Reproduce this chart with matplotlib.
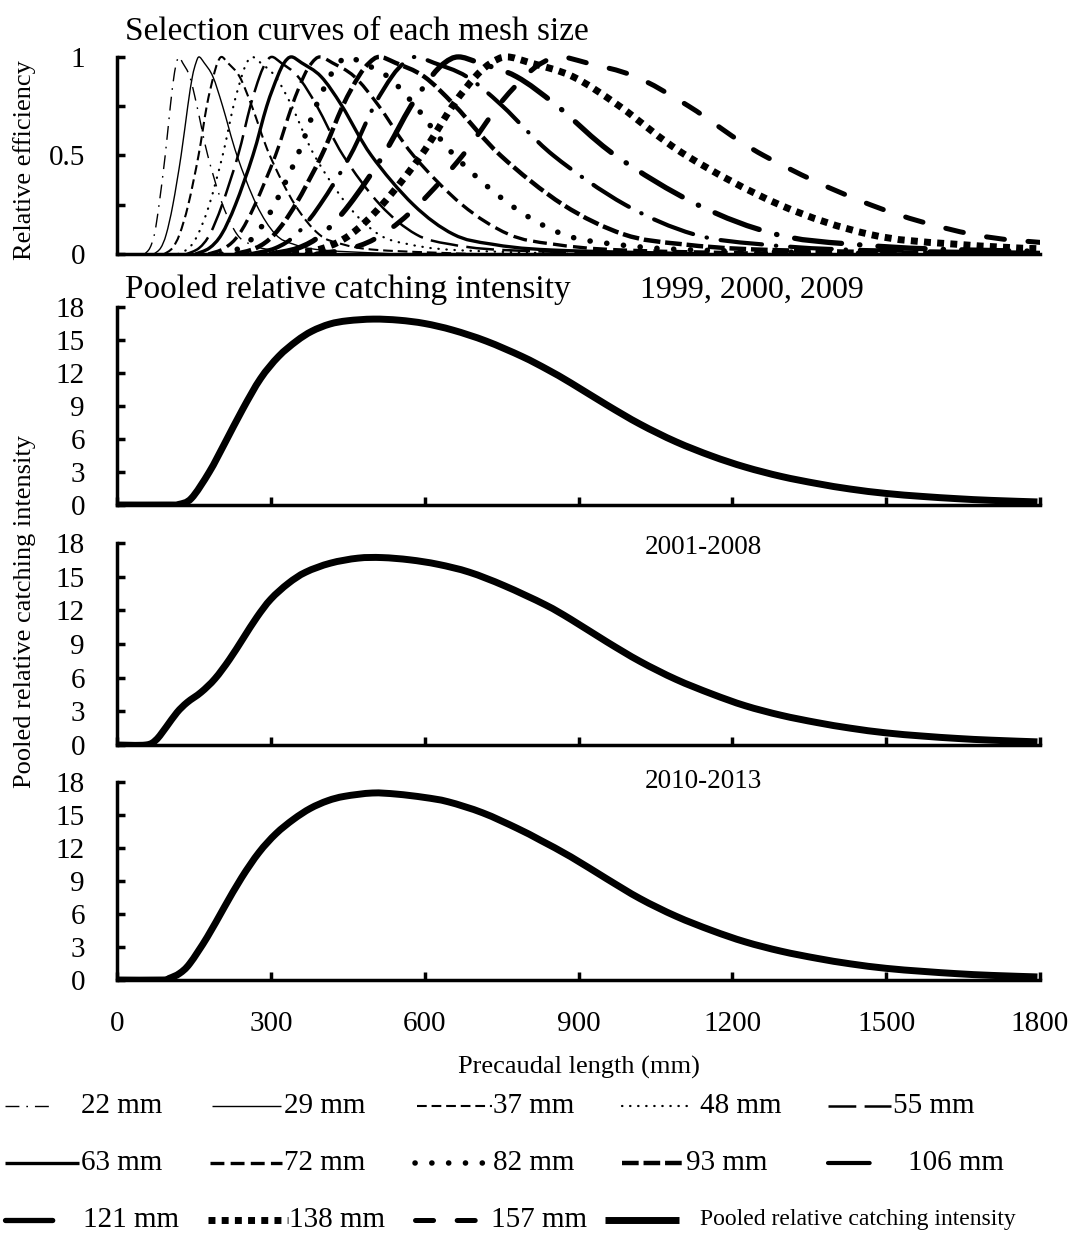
import matplotlib
matplotlib.use('Agg')
import matplotlib.pyplot as plt
from matplotlib.path import Path
from matplotlib.patches import PathPatch

plt.rcParams['font.family'] = ['Liberation Serif', 'DejaVu Serif']
plt.rcParams['lines.scale_dashes'] = False

# --------------------------------------------------------
# Data
# --------------------------------------------------------
mesh_sizes = [22, 29, 37, 48, 55, 63, 72, 82, 93, 106, 121, 138, 157]

# relative efficiency levels at which each selection curve was digitized
sel_levels = [0, 0.03, 0.1, 0.25, 0.5, 0.75, 0.9, 0.97, 1.0,
              0.97, 0.9, 0.75, 0.5, 0.25, 0.1, 0.05, 0.02, 0]

# precaudal length (mm) where each selection curve passes those levels
sel_22 = [54, 64, 73, 82, 94, 104, 111, 116, 121, 128, 142, 156, 177, 206, 234, 260, 303, 411]
sel_29 = [72, 85, 96, 109, 125, 138, 147, 154, 160, 170, 187, 206, 234, 272, 309, 344, 400, 544]
sel_37 = [92, 108, 122, 139, 159, 175, 188, 196, 204, 216, 239, 263, 298, 347, 394, 439, 510, 694]
sel_48 = [119, 140, 158, 180, 206, 227, 243, 253, 264, 280, 309, 341, 385, 449, 510, 568, 660, 898]
sel_55 = [136, 160, 181, 205, 236, 260, 278, 290, 302, 320, 353, 390, 441, 513, 583, 649, 755, 1027]
sel_63 = [153, 180, 204, 231, 265, 292, 313, 326, 340, 360, 398, 439, 496, 578, 656, 731, 850, 1156]
sel_72 = [178, 210, 238, 269, 309, 341, 364, 380, 396, 420, 463, 511, 578, 673, 764, 851, 990, 1346]
sel_82 = [203, 239, 271, 307, 352, 388, 415, 433, 451, 478, 528, 582, 658, 767, 870, 970, 1128, 1533]
sel_93 = [230, 271, 307, 348, 399, 440, 471, 492, 512, 543, 599, 660, 748, 870, 988, 1101, 1280, 1741]
sel_106 = [262, 309, 350, 396, 455, 501, 536, 560, 583, 618, 682, 752, 851, 991, 1125, 1253, 1458, 1982]
sel_121 = [300, 353, 400, 453, 519, 573, 613, 639, 666, 706, 779, 859, 972, 1132, 1285, 1432, 1665, 2264]
sel_138 = [342, 403, 456, 517, 593, 654, 699, 730, 760, 806, 889, 980, 1110, 1292, 1467, 1634, 1900, 2584]
sel_157 = [389, 458, 518, 588, 674, 743, 795, 829, 864, 916, 1011, 1115, 1261, 1469, 1668, 1858, 2160, 2938]

sel_lengths = [sel_22, sel_29, sel_37, sel_48, sel_55, sel_63, sel_72,
               sel_82, sel_93, sel_106, sel_121, sel_138, sel_157]

# pooled relative catching intensity, one curve per period
period_labels = ['1999, 2000, 2009', '2001-2008', '2010-2013']

pooled_x_9909 = [0, 100, 120, 145, 180, 210, 245, 280, 315, 350, 380, 415, 450, 500, 550, 600, 655,
                 720, 790, 840, 885, 955, 1020, 1090, 1160, 1225, 1295, 1365, 1430, 1500, 1570,
                 1640, 1705, 1795]
pooled_y_9909 = [0, 0, 0.05, 0.6, 3.0, 5.6, 8.7, 11.5, 13.5, 14.9, 15.8, 16.45, 16.75, 16.9, 16.8,
                 16.5, 15.9, 14.9, 13.5, 12.3, 11.1, 9.1, 7.35, 5.75, 4.45, 3.45, 2.6, 1.95, 1.45,
                 1.05, 0.78, 0.57, 0.42, 0.28]

pooled_x_0108 = [0, 56, 76, 96, 117, 137, 164, 191, 219, 246, 273, 300, 334, 368, 416, 470, 517,
                 571, 626, 687, 755, 835, 885, 955, 1020, 1090, 1160, 1225, 1295, 1365, 1430,
                 1500, 1570, 1640, 1705, 1795]
pooled_y_0108 = [0, 0, 0.45, 1.6, 2.9, 3.8, 4.7, 5.9, 7.6, 9.5, 11.4, 13.0, 14.4, 15.4, 16.2,
                 16.65, 16.7, 16.5, 16.1, 15.4, 14.2, 12.5, 11.2, 9.2, 7.45, 5.85, 4.55, 3.5, 2.65,
                 2.0, 1.5, 1.08, 0.8, 0.58, 0.43, 0.28]

pooled_x_1013 = [0, 90, 102, 122, 142, 176, 209, 243, 277, 310, 344, 377, 411, 444, 498, 545, 599,
                 646, 713, 780, 826, 885, 955, 1020, 1090, 1160, 1225, 1295, 1365, 1430, 1500,
                 1570, 1640, 1705, 1795]
pooled_y_1013 = [0, 0, 0.15, 0.6, 1.5, 3.9, 6.6, 9.3, 11.6, 13.3, 14.6, 15.6, 16.3, 16.7, 17.0,
                 16.9, 16.6, 16.2, 15.2, 13.8, 12.7, 11.2, 9.2, 7.4, 5.8, 4.5, 3.47, 2.62, 1.97,
                 1.47, 1.06, 0.79, 0.57, 0.42, 0.28]

pooled_x = [pooled_x_9909, pooled_x_0108, pooled_x_1013]
pooled_y = [pooled_y_9909, pooled_y_0108, pooled_y_1013]

# --------------------------------------------------------
# Line styles (one per mesh size), dashes in points
# --------------------------------------------------------
styles = {
    22: dict(lw=1.0, dashes=(10, 5, 1.2, 5), cap='butt'),
    29: dict(lw=1.0, dashes=None, cap='butt'),
    37: dict(lw=1.5, dashes=(7, 3.5), cap='butt'),
    48: dict(lw=1.6, dashes=(0.3, 5.5), cap='round'),
    55: dict(lw=1.8, dashes=(20, 6), cap='butt'),
    63: dict(lw=2.4, dashes=None, cap='butt'),
    72: dict(lw=2.4, dashes=(10, 4.5), cap='butt'),
    82: dict(lw=4.0, dashes=(0.1, 12), cap='round'),
    93: dict(lw=3.2, dashes=(12, 3.5), cap='butt'),
    106: dict(lw=3.0, dashes=(30, 10, 0.3, 10), cap='round'),
    121: dict(lw=3.8, dashes=(34, 13, 0.3, 13), cap='round'),
    138: dict(lw=5.0, dashes=(5, 4.5), cap='butt'),
    157: dict(lw=3.6, dashes=(13, 17), cap='round'),
}
pooled_style = dict(lw=5.0, dashes=None, cap='butt')


def smooth_path(xs, ys):
    pts = list(zip(xs, ys))
    n = len(pts)
    verts = [pts[0]]
    codes = [Path.MOVETO]
    for i in range(n - 1):
        p0 = pts[i - 1] if i > 0 else pts[i]
        p1, p2 = pts[i], pts[i + 1]
        p3 = pts[i + 2] if i + 2 < n else pts[i + 1]
        c1 = (p1[0] + (p2[0] - p0[0]) / 6, p1[1] + (p2[1] - p0[1]) / 6)
        c2 = (p2[0] - (p3[0] - p1[0]) / 6, p2[1] - (p3[1] - p1[1]) / 6)
        verts += [c1, c2, p2]
        codes += [Path.CURVE4] * 3
    return Path(verts, codes)


def draw_curve(ax, xs, ys, st):
    ls = '-' if st['dashes'] is None else (0, st['dashes'])
    ax.add_patch(PathPatch(smooth_path(xs, ys), fill=False, edgecolor='k', lw=st['lw'],
                           linestyle=ls, capstyle=st['cap'], joinstyle='round'))


def draw_sample(ax, x0, x1, y, st):
    ls = '-' if st['dashes'] is None else (0, st['dashes'])
    ax.plot([x0, x1], [y, y], color='k', lw=st['lw'], ls=ls,
            dash_capstyle=st['cap'], solid_capstyle=st['cap'])


W, H = 1074, 1238
fig = plt.figure(figsize=(W / 100, H / 100), dpi=100)

left = 117 / W
width = 923 / W


def frac(y_px):
    return 1 - y_px / H


def style_axes(ax):
    for s in ['top', 'right']:
        ax.spines[s].set_visible(False)
    for s in ['left', 'bottom']:
        ax.spines[s].set_linewidth(2.5)
    ax.tick_params(direction='in', length=6, width=2.5, labelsize=21, pad=23)


# --------------------------------------------------------
# Top panel: selection curves
# --------------------------------------------------------
ax0 = fig.add_axes([left, frac(254), width, 203 / H])
for m, xs in zip(mesh_sizes, sel_lengths):
    draw_curve(ax0, xs, sel_levels, styles[m])
ax0.set_xlim(0, 1800)
ax0.set_ylim(0, 1.03)
style_axes(ax0)
ax0.spines['left'].set_bounds(0, 1)
ax0.set_xticks([])
ax0.set_yticks([0, 0.25, 0.5, 0.75, 1])
ax0.set_yticklabels(['0', '', '0.5', '', '1'])

# --------------------------------------------------------
# Pooled panels
# --------------------------------------------------------
panel_px = [(505, 307), (745, 543), (980, 782)]
axes = []
for i, (b, t) in enumerate(panel_px):
    ax = fig.add_axes([left, frac(b), width, (b - t) / H])
    draw_curve(ax, pooled_x[i], pooled_y[i], pooled_style)
    ax.set_xlim(0, 1800)
    ax.set_ylim(0, 18)
    style_axes(ax)
    ax.set_yticks(range(0, 19, 3))
    ax.set_xticks(range(0, 1801, 300))
    if i < 2:
        ax.set_xticklabels([])
    axes.append(ax)

axes[-1].tick_params(axis='x', pad=22)
axes[-1].set_xlabel('Precaudal length (mm)', fontsize=19, labelpad=14)

# --------------------------------------------------------
# Texts
# --------------------------------------------------------
fig.text(125 / W, frac(32), 'Selection curves of each mesh size', fontsize=24, va='center')
fig.text(125 / W, frac(290), 'Pooled relative catching intensity', fontsize=24, va='center')
fig.text(640 / W, frac(290), period_labels[0], fontsize=23, va='center')
fig.text(645 / W, frac(548), period_labels[1], fontsize=19.5, va='center')
fig.text(645 / W, frac(782), period_labels[2], fontsize=19.5, va='center')
fig.text(25 / W, frac(160), 'Relative efficiency', fontsize=19, rotation=90,
         ha='center', va='center')
fig.text(25 / W, frac(612), 'Pooled relative catching intensity', fontsize=19, rotation=90,
         ha='center', va='center')

# --------------------------------------------------------
# Legend (drawn by hand, 5 columns x 3 rows)
# --------------------------------------------------------
axl = fig.add_axes([0, 0, 1, 1])
axl.set_xlim(0, W)
axl.set_ylim(H, 0)
axl.axis('off')

leg_rows = [1106, 1163, 1220]
leg_sample = [(5, 55, 81), (212, 281, 284), (417, 492, 493), (622, 688, 700), (828, 891, 893),
              (5, 79, 81), (210, 282, 284), (415, 492, 493), (622, 684, 686), (828, 877, 908),
              (5, 53, 83), (208, 288, 289), (415, 489, 491)]
for k, m in enumerate(mesh_sizes):
    x0, x1, xt = leg_sample[k]
    y = leg_rows[k // 5]
    draw_sample(axl, x0, x1, y, styles[m])
    axl.text(xt, y, f'{m} mm', fontsize=21, va='center')
draw_sample(axl, 605, 679, leg_rows[2], pooled_style)
axl.text(700, leg_rows[2], 'Pooled relative catching intensity', fontsize=17, va='center')

fig.savefig('out.png', dpi=100)
